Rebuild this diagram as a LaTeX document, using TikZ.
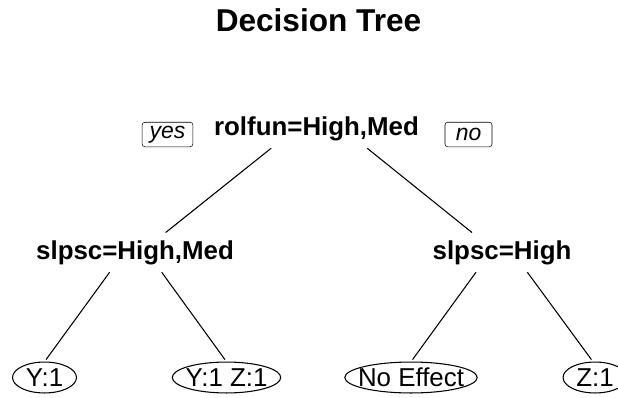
\documentclass[tikz,border=0pt]{standalone}
\usepackage{fontspec}
\setmainfont{Liberation Sans}
\usetikzlibrary{calc}

\newcommand{\titlefont}{\fontsize{23.7}{26}\selectfont\bfseries}
\newcommand{\splitfont}{\fontsize{19.4}{22}\selectfont\bfseries}
\newcommand{\leaffont}{\fontsize{19.4}{22}\selectfont}
\newcommand{\labfont}{\fontsize{17.2}{20}\selectfont\itshape}

\tikzset{
  split/.style={font=\splitfont, inner xsep=0pt, inner ysep=5.6pt, anchor=base},
  leaf/.style={font=\leaffont, inner xsep=9.75pt, inner ysep=0pt, minimum height=23.25pt},
  lab/.style={draw, rounded corners=2pt, font=\labfont, inner xsep=5.6pt, inner ysep=0pt,
    minimum width=35.25pt, minimum height=18.4pt},
  branch/.style={line width=0.8pt}
}

\begin{document}
\begin{tikzpicture}[x=0.75pt,y=-0.75pt]
  \useasboundingbox (0,0) rectangle (618,397);
  \node[font=\titlefont, anchor=base] (title) at (318.5,31.5) {Decision Tree};

  \node[split] (root) at (316.5,135) {rolfun=High,Med};
  \node[lab] (yes) at (167.5,134.5) {yes};
  \node[lab] (no) at (468.5,134.5) {no};

  \node[split] (sl) at (135,259) {slpsc=High,Med};
  \node[split] (sr) at (502,259) {slpsc=High};

  \node[leaf] (ya) at (44.5,377.5) {Y:1};
  \node[leaf] (yb) at (226.5,377.5) {Y:1 Z:1};
  \node[leaf] (yc) at (411,377.5) {No Effect};
  \node[leaf] (yd) at (595,377.5) {Z:1};

  \foreach \lf in {ya,yb,yc,yd}
    \draw[branch] let \p1=($(\lf.east)-(\lf.west)$) in (\lf.center) ellipse ({0.5*\x1} and 11.6pt);

  \draw[branch] ([xshift=-34pt]root.south) -- ([xshift=23pt]sl.north);
  \draw[branch] ([xshift=38pt]root.south) -- ([xshift=-22.5pt]sr.north);
  \draw[branch, shorten >=2pt] ([xshift=-19pt]sl.south) -- (ya.north);
  \draw[branch, shorten >=2pt] ([xshift=20pt]sl.south) -- (yb.north);
  \draw[branch, shorten >=2pt] ([xshift=-19.5pt]sr.south) -- (yc.north);
  \draw[branch, shorten >=2pt] ([xshift=19pt]sr.south) -- ([xshift=-1.5pt]yd.north);
\end{tikzpicture}
\end{document}
